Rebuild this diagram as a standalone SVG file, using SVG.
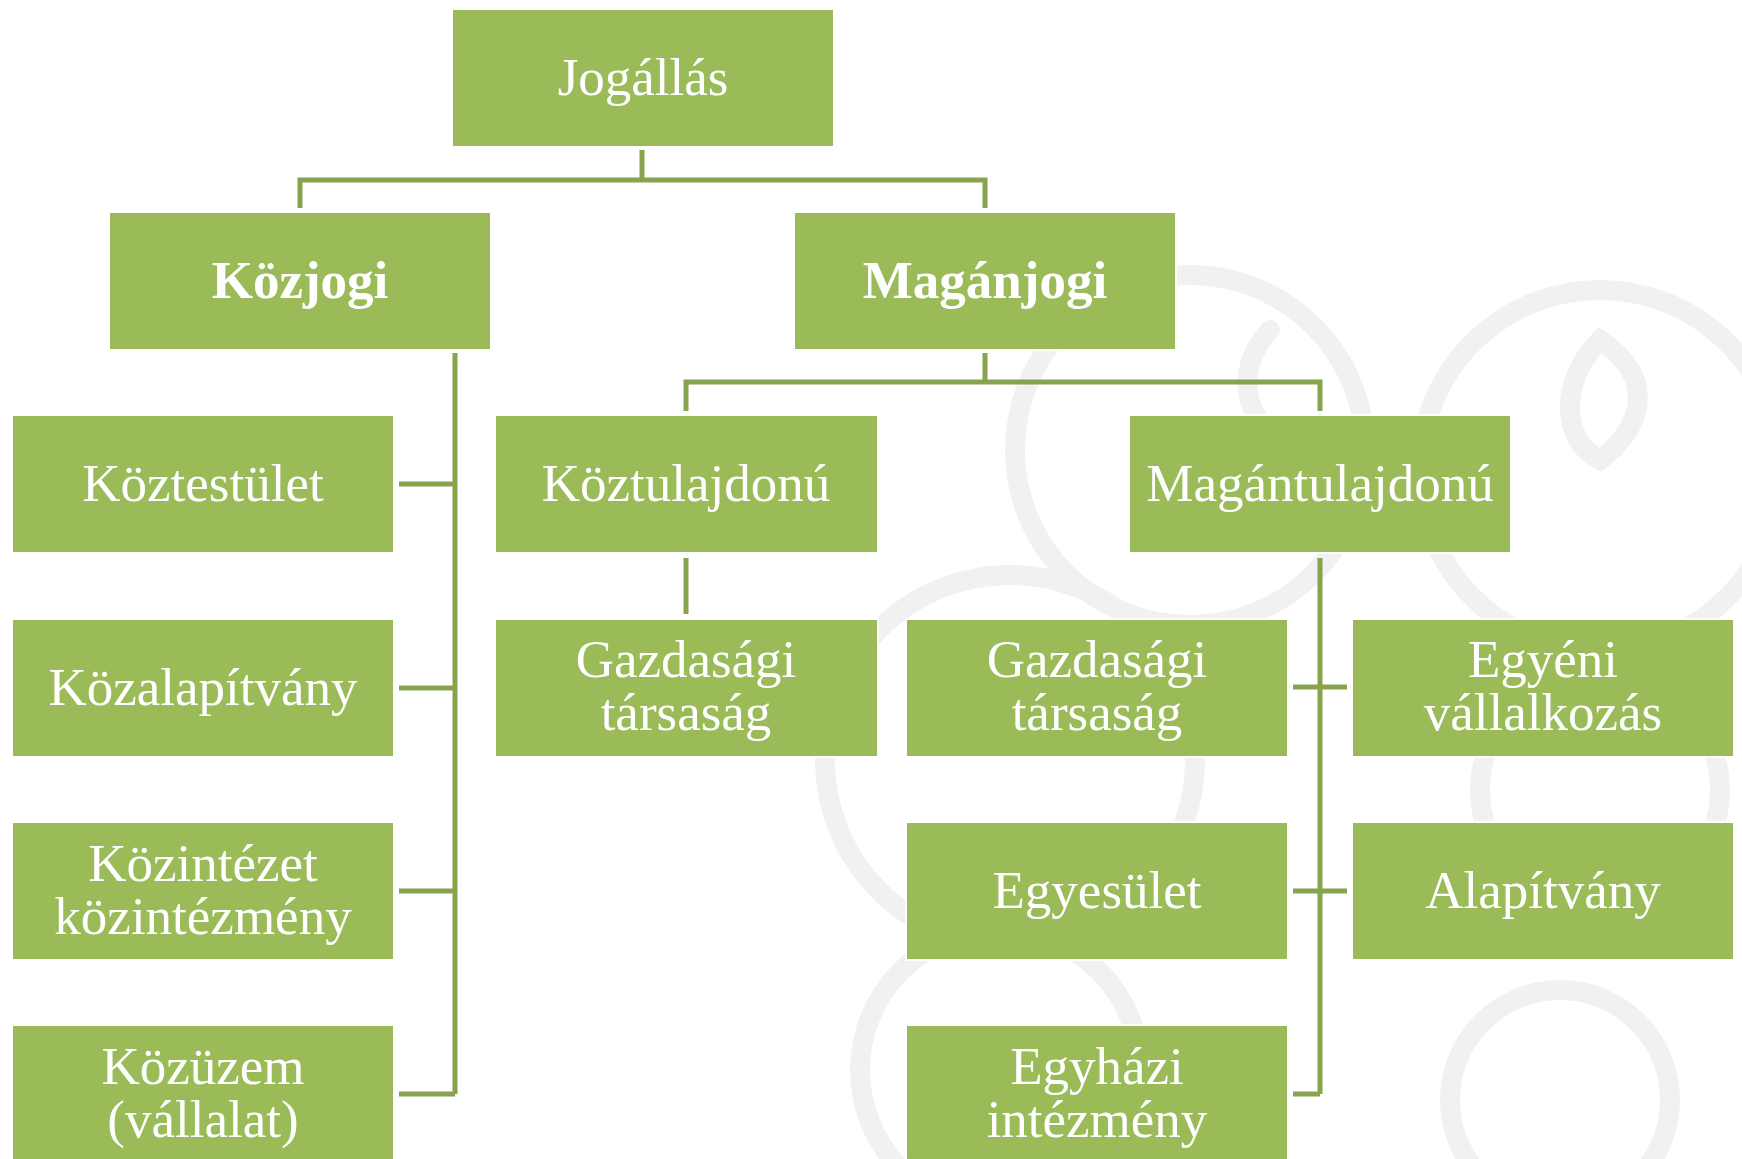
<svg xmlns="http://www.w3.org/2000/svg" width="1742" height="1159" viewBox="0 0 1742 1159">
<style>
.box{fill:#9BBB59;stroke:#ffffff;stroke-width:2}
.t{font-family:"Liberation Serif","Times New Roman",serif;font-size:53px;fill:#ffffff;text-anchor:middle}
.b{font-weight:bold}
.c{fill:none;stroke:#87A34C;stroke-width:5}
.wm{fill:none;stroke:#f1f1f1;stroke-width:20;stroke-linecap:round}
</style>
<rect width="1742" height="1159" fill="#ffffff"/>
<g id="watermark">
<circle class="wm" cx="1190" cy="450" r="175"/>
<circle class="wm" cx="1600" cy="470" r="180"/>
<path class="wm" d="M1600,340 C1560,380 1560,440 1600,460 C1640,430 1660,380 1600,340 Z"/>
<path class="wm" d="M1270,330 C1240,360 1240,410 1270,430"/>
<circle class="wm" cx="1010" cy="760" r="185"/>
<circle class="wm" cx="1600" cy="790" r="120"/>
<circle class="wm" cx="1000" cy="1070" r="140"/>
<circle class="wm" cx="1560" cy="1100" r="110"/>
<path class="wm" d="M1060,1159 C1080,1110 1120,1100 1140,1159"/>
</g>
<g id="connectors">
<path class="c" d="M642,150 V180 M300,208 V180 H985 V208"/>
<path class="c" d="M455,353 V1094 M399,484 H455 M399,688 H455 M399,891 H455 M399,1094 H455"/>
<path class="c" d="M985,353 V382 M686,411 V382 H1320 V411"/>
<path class="c" d="M686,558 V614"/>
<path class="c" d="M1320,558 V1094 M1293,687 H1347 M1293,891 H1347 M1293,1094 H1320"/>
</g>
<g id="n-jogallas"><rect class="box" x="452" y="9" width="382" height="138"/><text class="t" x="643" y="95">Jogállás</text></g>
<g id="n-kozjogi"><rect class="box" x="109" y="212" width="382" height="138"/><text class="t b" x="300" y="298">Közjogi</text></g>
<g id="n-maganjogi"><rect class="box" x="794" y="212" width="382" height="138"/><text class="t b" x="985" y="298">Magánjogi</text></g>
<g id="n-koztestulet"><rect class="box" x="12" y="415" width="382" height="138"/><text class="t" x="203" y="501">Köztestület</text></g>
<g id="n-kozalapitvany"><rect class="box" x="12" y="619" width="382" height="138"/><text class="t" x="203" y="705">Közalapítvány</text></g>
<g id="n-kozintezet"><rect class="box" x="12" y="822" width="382" height="138"/><text class="t" x="203" y="881">Közintézet</text><text class="t" x="203" y="934">közintézmény</text></g>
<g id="n-kozuzem"><rect class="box" x="12" y="1025" width="382" height="138"/><text class="t" x="203" y="1084">Közüzem</text><text class="t" x="203" y="1137">(vállalat)</text></g>
<g id="n-koztulajdonu"><rect class="box" x="495" y="415" width="383" height="138"/><text class="t" x="686" y="501">Köztulajdonú</text></g>
<g id="n-gazd1"><rect class="box" x="495" y="619" width="383" height="138"/><text class="t" x="686" y="677">Gazdasági</text><text class="t" x="686" y="730">társaság</text></g>
<g id="n-magantulajdonu"><rect class="box" x="1129" y="415" width="382" height="138"/><text class="t" x="1320" y="501">Magántulajdonú</text></g>
<g id="n-gazd2"><rect class="box" x="906" y="619" width="382" height="138"/><text class="t" x="1097" y="677">Gazdasági</text><text class="t" x="1097" y="730">társaság</text></g>
<g id="n-egyeni"><rect class="box" x="1352" y="619" width="382" height="138"/><text class="t" x="1543" y="677">Egyéni</text><text class="t" x="1543" y="730">vállalkozás</text></g>
<g id="n-egyesulet"><rect class="box" x="906" y="822" width="382" height="138"/><text class="t" x="1097" y="908">Egyesület</text></g>
<g id="n-alapitvany"><rect class="box" x="1352" y="822" width="382" height="138"/><text class="t" x="1543" y="908">Alapítvány</text></g>
<g id="n-egyhazi"><rect class="box" x="906" y="1025" width="382" height="138"/><text class="t" x="1097" y="1084">Egyházi</text><text class="t" x="1097" y="1137">intézmény</text></g>
</svg>
